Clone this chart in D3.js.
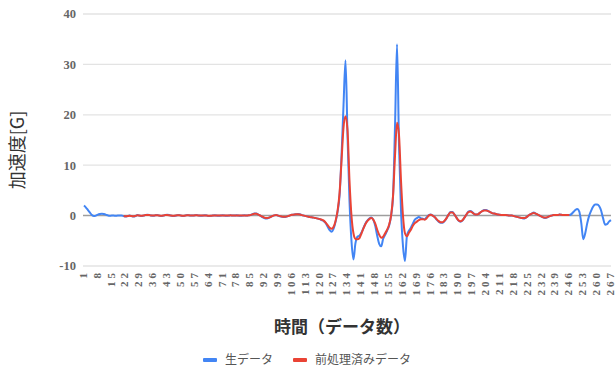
<!DOCTYPE html>
<html>
<head>
<meta charset="utf-8">
<script src="https://cdn.jsdelivr.net/npm/d3@7"></script>
<style>
  body { margin: 0; background: #fff; }
  svg { display: block; }
</style>
</head>
<body>
<svg id="chart"></svg>
<script>
// 生データ (1..267)
const rawData = [
  2.0, 1.6, 1.1, 0.6, 0.1, -0.1, 0.0, 0.2, 0.3, 0.35,
  0.3, 0.2, 0.05, -0.05, 0.0, 0.0, -0.05, 0.0, 0.0, 0.0,
  -0.1, -0.2, -0.1, 0.0, -0.1, -0.2, -0.1, 0.1, 0.0, -0.1,
  0.0, 0.1, 0.15, 0.1, 0.0, -0.05, 0.05, 0.1, 0.0, -0.1,
  0.0, 0.1, 0.15, 0.1, 0.0, -0.1, -0.05, 0.05, 0.1, 0.0,
  -0.1, 0.0, 0.1, 0.05, 0.0, 0.0, 0.05, 0.1, 0.0, -0.05,
  0.0, 0.05, 0.0, -0.1, -0.05, 0.0, 0.05, 0.0, -0.05, 0.0,
  0.05, 0.0, -0.05, 0.0, 0.05, 0.0, 0.0, 0.05, 0.0, -0.05,
  0.0, 0.05, 0.0, 0.05, 0.1, 0.3, 0.4, 0.4, 0.2, 0.0,
  -0.3, -0.5, -0.6, -0.5, -0.3, -0.1, 0.05, 0.1, 0.0, -0.15,
  -0.25, -0.3, -0.25, -0.1, 0.05, 0.15, 0.2, 0.25, 0.3, 0.25,
  0.1, 0.0, -0.1, -0.2, -0.3, -0.35, -0.4, -0.5, -0.6, -0.7,
  -0.9, -1.1, -1.5, -2.2, -2.9, -3.2, -2.6, -1.2, 0.8, 4.0,
  12.0, 22.0, 30.8, 16.0, 3.0, -5.0, -8.7, -5.5, -4.2, -4.0,
  -3.4, -2.5, -1.6, -1.0, -0.6, -0.4, -0.8, -2.0, -4.0, -5.6,
  -6.1, -4.6, -3.8, -3.0, -2.0, 0.0, 4.0, 18.0, 34.0, 14.0,
  1.0, -6.0, -9.0, -4.0, -3.0, -2.4, -1.6, -0.8, -0.5, -0.3,
  -0.5, -0.6, -0.7, -0.3, 0.1, 0.2, 0.0, -0.3, -0.8, -1.2,
  -1.4, -1.4, -1.1, -0.5, 0.2, 0.7, 0.7, 0.2, -0.4, -1.0,
  -1.2, -1.0, -0.4, 0.2, 0.8, 0.9, 0.7, 0.3, 0.2, 0.3,
  0.6, 0.9, 1.1, 1.1, 0.9, 0.7, 0.5, 0.4, 0.3, 0.2,
  0.15, 0.1, 0.1, 0.1, 0.05, 0.0, 0.0, -0.1, -0.2, -0.3,
  -0.4, -0.5, -0.6, -0.4, -0.1, 0.2, 0.4, 0.6, 0.4, 0.2,
  0.0, -0.2, -0.4, -0.5, -0.3, -0.1, 0.0, 0.1, 0.1, 0.1,
  0.2, 0.15, 0.1, 0.1, 0.1, 0.1, 0.3, 0.7, 1.1, 1.3,
  0.8, -1.5, -4.7, -3.5, -1.5, 0.0, 1.0, 1.8, 2.2, 2.2,
  1.9, 1.0, -0.5, -1.8, -1.7, -1.2, -0.9
];

// 前処理済みデータ (21..246)
const procStart = 21;
const procData = [
  -0.1, -0.15, -0.1, -0.05, -0.1, -0.15, -0.05, 0.05, 0.0, -0.05,
  0.0, 0.1, 0.1, 0.1, 0.0, 0.0, 0.05, 0.05, 0.0, -0.05,
  0.0, 0.1, 0.1, 0.05, 0.0, -0.05, 0.0, 0.05, 0.05, 0.0,
  -0.05, 0.0, 0.05, 0.05, 0.0, 0.0, 0.05, 0.05, 0.0, 0.0,
  0.0, 0.0, 0.0, -0.05, -0.05, 0.0, 0.0, 0.0, 0.0, 0.0,
  0.0, 0.0, 0.0, 0.0, 0.05, 0.0, 0.0, 0.0, 0.0, 0.0,
  0.0, 0.0, 0.0, 0.05, 0.1, 0.25, 0.35, 0.35, 0.2, 0.0,
  -0.2, -0.4, -0.5, -0.45, -0.3, -0.1, 0.05, 0.1, 0.0, -0.1,
  -0.2, -0.25, -0.2, -0.1, 0.05, 0.15, 0.2, 0.25, 0.25, 0.2,
  0.1, 0.0, -0.1, -0.2, -0.3, -0.35, -0.4, -0.5, -0.6, -0.7,
  -0.8, -1.0, -1.4, -1.9, -2.4, -2.6, -2.2, -1.0, 1.0, 4.5,
  11.0, 17.5, 19.7, 17.0, 7.0, 0.0, -3.5, -4.6, -4.7, -4.5,
  -3.6, -2.6, -1.7, -1.1, -0.7, -0.5, -0.8, -1.6, -2.8, -3.8,
  -4.4, -4.2, -3.5, -2.8, -1.8, 0.0, 4.0, 12.0, 18.4, 16.0,
  7.0, 0.0, -3.5, -4.1, -3.4, -2.8, -2.0, -1.5, -1.2, -0.9,
  -0.7, -0.7, -0.8, -0.5, 0.0, 0.15, 0.0, -0.3, -0.7, -1.1,
  -1.3, -1.3, -1.0, -0.5, 0.2, 0.6, 0.6, 0.2, -0.4, -0.9,
  -1.1, -0.9, -0.4, 0.2, 0.7, 0.8, 0.6, 0.3, 0.2, 0.3,
  0.6, 0.9, 1.0, 1.0, 0.9, 0.7, 0.5, 0.4, 0.3, 0.2,
  0.15, 0.1, 0.1, 0.1, 0.05, 0.0, 0.0, -0.1, -0.2, -0.3,
  -0.4, -0.5, -0.5, -0.4, -0.1, 0.2, 0.4, 0.5, 0.4, 0.2,
  0.0, -0.2, -0.4, -0.4, -0.3, -0.1, 0.0, 0.1, 0.1, 0.1,
  0.2, 0.15, 0.1, 0.1, 0.1, 0.1
];

const yTicks = [-10, 0, 10, 20, 30, 40];
const xTickStep = 7;
const seriesNames = ["生データ", "前処理済みデータ"];
const colors = ["#4285f4", "#ea4335"];

const width = 616, height = 367;
const margin = { top: 14, right: 5, bottom: 101, left: 84 };

const svg = d3.select("#chart")
  .attr("width", width)
  .attr("height", height);

const n = rawData.length;
const x = d3.scaleLinear()
  .domain([1, n])
  .range([margin.left, width - margin.right]);

const y = d3.scaleLinear()
  .domain([-10, 40])
  .range([height - margin.bottom, margin.top]);

// グリッド線
svg.append("g")
  .selectAll("line")
  .data(yTicks)
  .enter()
  .append("line")
  .attr("x1", margin.left - 1)
  .attr("x2", width - margin.right)
  .attr("y1", d => y(d))
  .attr("y2", d => y(d))
  .attr("stroke", d => d === 0 ? "#9e9e9e" : "#e3e3e3")
  .attr("stroke-width", d => d === 0 ? 1.5 : 1.3);

// y軸ラベル
svg.append("g")
  .selectAll("text")
  .data(yTicks)
  .enter()
  .append("text")
  .attr("x", margin.left - 8)
  .attr("y", d => y(d))
  .attr("dy", "0.35em")
  .attr("text-anchor", "end")
  .style("font-family", "'Liberation Serif', serif")
  .style("font-size", "12.5px")
  .style("font-weight", "bold")
  .style("fill", "#666")
  .text(d => d);

// x軸ラベル
const xTicks = d3.range(1, n + 1, xTickStep);
svg.append("g")
  .selectAll("text")
  .data(xTicks)
  .enter()
  .append("text")
  .attr("transform", d => `translate(${x(d) - 1},${y(-10) + 4}) rotate(-90)`)
  .attr("dy", "0.35em")
  .attr("text-anchor", "end")
  .style("font-family", "'Liberation Serif', serif")
  .style("font-size", "11px")
  .style("font-weight", "bold")
  .style("letter-spacing", "3px")
  .style("fill", "#666")
  .text(d => d);

// 折れ線
const line = d3.line()
  .defined(d => d.v !== null)
  .x(d => x(d.i))
  .y(d => y(d.v))
  .curve(d3.curveMonotoneX);

const rawPts = rawData.map((v, k) => ({ i: k + 1, v: v }));
const procPts = procData.map((v, k) => ({ i: k + procStart, v: v }));

svg.append("path")
  .datum(rawPts)
  .attr("d", line)
  .attr("fill", "none")
  .attr("stroke", colors[0])
  .attr("stroke-width", 2)
  .attr("stroke-linejoin", "round");

svg.append("path")
  .datum(procPts)
  .attr("d", line)
  .attr("fill", "none")
  .attr("stroke", colors[1])
  .attr("stroke-width", 2)
  .attr("stroke-linejoin", "round");

// 軸タイトル
svg.append("text")
  .attr("transform", `translate(24,${(y(40) + y(-10)) / 2 + 10}) rotate(-90)`)
  .attr("text-anchor", "middle")
  .style("font-family", "'Noto Sans CJK JP', sans-serif")
  .style("font-size", "18px")
  .style("fill", "#333")
  .text("加速度[G]");

svg.append("text")
  .attr("x", 342)
  .attr("y", 333)
  .attr("text-anchor", "middle")
  .style("font-family", "'Noto Sans CJK JP', sans-serif")
  .style("font-size", "17px")
  .style("font-weight", "bold")
  .style("fill", "#333")
  .text("時間（データ数）");

// 凡例
const legendItems = [
  { name: seriesNames[0], color: colors[0], x: 203 },
  { name: seriesNames[1], color: colors[1], x: 293 }
];
const lg = svg.append("g")
  .selectAll("g")
  .data(legendItems)
  .enter()
  .append("g")
  .attr("transform", d => `translate(${d.x},360)`);

lg.append("rect")
  .attr("x", 0)
  .attr("y", -2)
  .attr("width", 14)
  .attr("height", 4)
  .attr("rx", 1)
  .attr("fill", d => d.color);

lg.append("text")
  .attr("x", 22)
  .attr("dy", "0.35em")
  .style("font-family", "'Noto Sans CJK JP', sans-serif")
  .style("font-size", "12px")
  .style("fill", "#555")
  .text(d => d.name);
</script>
</body>
</html>
